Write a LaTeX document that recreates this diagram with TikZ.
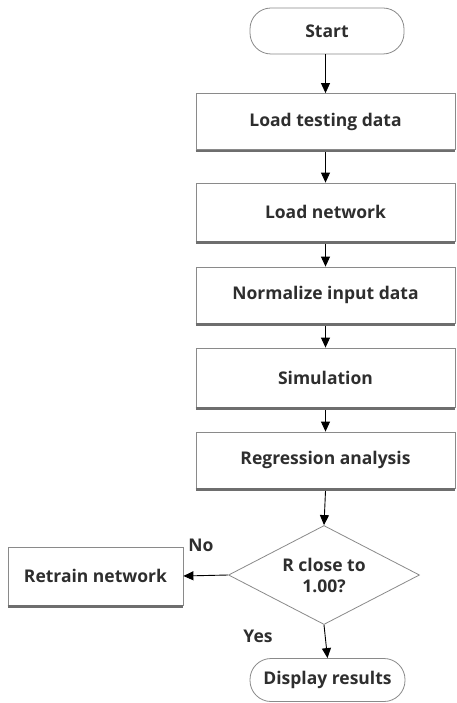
\documentclass[tikz,border=0pt]{standalone}
\usepackage{fontspec}
\setmainfont{Open Sans}
\usetikzlibrary{shapes.geometric,arrows.meta}
\definecolor{txt}{HTML}{2E2E2E}
\definecolor{edge}{HTML}{8A8A8A}
\begin{document}
\begin{tikzpicture}[x=1pt,y=-1pt,
  every node/.style={font=\fontsize{17.5}{20}\selectfont\bfseries, text=txt},
  procbox/.style={draw=edge, line width=0.8pt, fill=white, minimum width=259pt, minimum height=56pt, inner sep=0pt},
  termbox/.style={draw=edge, line width=0.8pt, fill=white, rounded corners=21pt, inner sep=0pt},
  decbox/.style={draw=edge, line width=0.8pt, diamond, aspect=1.93, minimum width=191pt, minimum height=99pt, inner sep=0pt, align=center},
  flow/.style={draw=black, line width=0.9pt, -{Triangle[length=10pt,width=9pt]}},
  shadowline/.style={draw=edge!80!black, line width=2.6pt}
]
\useasboundingbox (0,0) rectangle (457,703);
\fill[white] (0,0) rectangle (457,703);

\node[termbox, minimum width=154pt, minimum height=46pt] (start) at (327,31) {Start};
\node[procbox] (load) at (325.5,121.5) {Load testing data};
\node[procbox, minimum height=58pt] (net) at (325.5,212) {Load network};
\node[procbox] (norm) at (325.5,295) {Normalize input data};
\node[procbox, minimum height=59pt] (sim) at (325.5,377.5) {Simulation};
\node[procbox] (reg) at (325.5,460) {Regression analysis};
\node[decbox] (dec) at (324,575) {R close to\\[1pt]1.00?};
\node[procbox, minimum width=175pt, minimum height=58pt] (retrain) at (95.5,576) {Retrain network};
\node[termbox, minimum width=155pt, minimum height=43pt] (disp) at (327.5,680) {Display results};

\foreach \b in {load,net,norm,sim,reg,retrain}{
  \draw[shadowline] ([yshift=-1.3pt]\b.south west) -- ([yshift=-1.3pt]\b.south east);
}

\node (no) at (201,545) {No};
\node (yes) at (258,636) {Yes};

\draw[flow] (start.south -| load.north) -- (load.north);
\draw[flow] ([yshift=-2.6pt]load.south) -- (net.north);
\draw[flow] ([yshift=-2.6pt]net.south) -- (norm.north);
\draw[flow] ([yshift=-2.6pt]norm.south) -- (sim.north);
\draw[flow] ([yshift=-2.6pt]sim.south) -- (reg.north);
\draw[flow] ([yshift=-2.6pt]reg.south) -- (dec.north);
\draw[flow] (dec.west) -- (retrain.east);
\draw[flow] (dec.south) -- (disp.north);
\end{tikzpicture}
\end{document}
